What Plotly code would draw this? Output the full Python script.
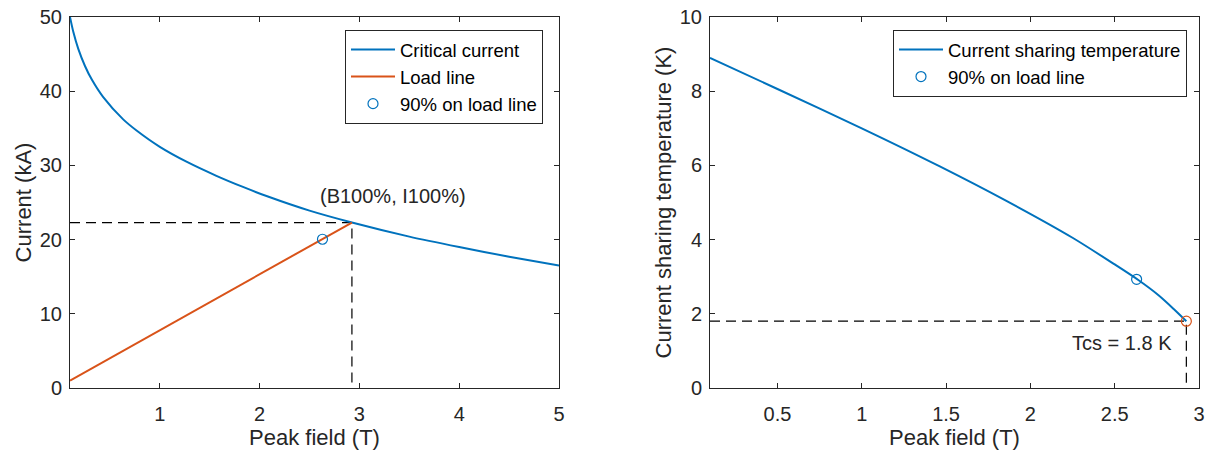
import plotly.graph_objects as go

# ---------------- data ----------------
# Left panel: critical current vs peak field
B_ic = [0.1, 0.133, 0.183, 0.25, 0.317, 0.433, 0.633, 0.767, 1.0, 1.267, 1.567,
        1.833, 2.083, 2.5, 2.925, 3.5, 4.0, 4.5, 5.0]
I_ic = [50.0, 48.0, 45.7, 43.4, 41.6, 39.2, 36.2, 34.7, 32.5, 30.5, 28.6,
        27.1, 25.8, 23.9, 22.3, 20.4, 19.0, 17.7, 16.5]
# Load line
B_load = [0.1, 2.925]
I_load = [1.0, 22.3]
# Operating points
B100 = 2.925
I100 = 22.3
B90 = [2.63]
I90 = [20.05]

# Right panel: current sharing temperature vs peak field
B_tcs = [0.1, 0.5, 1.0, 1.46, 1.855, 2.25, 2.5, 2.64, 2.76, 2.85, 2.925]
T_tcs = [8.90, 8.06, 7.0, 5.98, 5.05, 4.05, 3.33, 2.91, 2.50, 2.13, 1.8]
T90 = [2.93]
Tcs100 = 1.8

BLUE = "#0072BD"
ORANGE = "#D95319"
AX = "#262626"
FONT = "Liberation Sans, Arial, sans-serif"

fig = go.Figure()

# ---- left panel ----
fig.add_trace(go.Scatter(x=[B_ic[0], B100, B100], y=[I100, I100, 0], mode="lines",
                         line=dict(color="black", width=1.2, dash="10px,6px"),
                         showlegend=False, hoverinfo="skip", xaxis="x", yaxis="y"))
fig.add_trace(go.Scatter(x=B_ic, y=I_ic, mode="lines", name="Critical current",
                         line=dict(color=BLUE, width=2, shape="spline", smoothing=0.8),
                         xaxis="x", yaxis="y", legend="legend"))
fig.add_trace(go.Scatter(x=B_load, y=I_load, mode="lines", name="Load line",
                         line=dict(color=ORANGE, width=2),
                         xaxis="x", yaxis="y", legend="legend"))
fig.add_trace(go.Scatter(x=B90, y=I90, mode="markers", name="90% on load line",
                         marker=dict(symbol="circle-open", size=10, color=BLUE,
                                     line=dict(width=1.2, color=BLUE)),
                         xaxis="x", yaxis="y", legend="legend"))

# ---- right panel ----
fig.add_trace(go.Scatter(x=[B_tcs[0], B100, B100], y=[Tcs100, Tcs100, 0], mode="lines",
                         line=dict(color="black", width=1.2, dash="10px,6px"),
                         showlegend=False, hoverinfo="skip", xaxis="x2", yaxis="y2"))
fig.add_trace(go.Scatter(x=B_tcs, y=T_tcs, mode="lines", name="Current sharing temperature",
                         line=dict(color=BLUE, width=2, shape="spline", smoothing=0.8),
                         xaxis="x2", yaxis="y2", legend="legend2"))
fig.add_trace(go.Scatter(x=B90, y=T90, mode="markers", name="90% on load line",
                         marker=dict(symbol="circle-open", size=10, color=BLUE,
                                     line=dict(width=1.2, color=BLUE)),
                         xaxis="x2", yaxis="y2", legend="legend2"))
fig.add_trace(go.Scatter(x=[B100], y=[Tcs100], mode="markers", showlegend=False,
                         marker=dict(symbol="circle-open", size=10, color=ORANGE,
                                     line=dict(width=1.2, color=ORANGE)),
                         xaxis="x2", yaxis="y2"))

W, H = 1211, 456
def dx(a, b):
    return [a / W, b / W]
def dy(top, bottom):
    return [1 - bottom / H, 1 - top / H]

axis_common = dict(showgrid=False, zeroline=False, showline=True, linecolor=AX,
                   linewidth=1, mirror="ticks", ticks="inside", ticklen=5,
                   tickcolor=AX, automargin=False,
                   tickfont=dict(family=FONT, size=20, color=AX),
                   title_font=dict(family=FONT, size=22, color=AX))

legend_common = dict(bgcolor="white", bordercolor=AX, borderwidth=1, itemwidth=44,
                     font=dict(family=FONT, size=18.5, color="black"), tracegroupgap=0)

fig.update_layout(
    width=W, height=H,
    margin=dict(l=0, r=0, t=0, b=0, autoexpand=False),
    paper_bgcolor="white", plot_bgcolor="white",
    font=dict(family=FONT, color=AX),
    xaxis=dict(domain=dx(70, 559), range=[0.1, 5], tickvals=[1, 2, 3, 4, 5],
               anchor="y", title=dict(text="Peak field (T)", standoff=5),
               ticklabelstandoff=8, **axis_common),
    yaxis=dict(domain=dy(17, 388), range=[0, 50], tickvals=[0, 10, 20, 30, 40, 50],
               anchor="x", title=dict(text="Current (kA)", standoff=2),
               ticklabelstandoff=3, **axis_common),
    xaxis2=dict(domain=dx(710, 1199), range=[0.1, 3], tickvals=[0.5, 1, 1.5, 2, 2.5, 3],
                anchor="y2", title=dict(text="Peak field (T)", standoff=5),
                ticklabelstandoff=8, **axis_common),
    yaxis2=dict(domain=dy(17, 388), range=[0, 10], tickvals=[0, 2, 4, 6, 8, 10],
                anchor="x2", title=dict(text="Current sharing temperature (K)", standoff=2),
                ticklabelstandoff=3, **axis_common),
    legend=dict(x=543 / W, y=1 - 30 / H, xanchor="right", yanchor="top", **legend_common),
    legend2=dict(x=1187 / W, y=1 - 30 / H, xanchor="right", yanchor="top", **legend_common),
    annotations=[
        dict(x=3.34, y=25.85, xref="x", yref="y", text="(B100%, I100%)", showarrow=False,
             xanchor="center", yanchor="middle", font=dict(family=FONT, size=20, color=AX)),
        dict(x=2.85, y=1.22, xref="x2", yref="y2", text="Tcs = 1.8 K", showarrow=False,
             xanchor="right", yanchor="middle", font=dict(family=FONT, size=20, color=AX)),
    ],
)

fig.write_html("out.html", config={"displayModeBar": False},
               post_script="document.body.style.margin='0';document.body.style.overflow='hidden';")
